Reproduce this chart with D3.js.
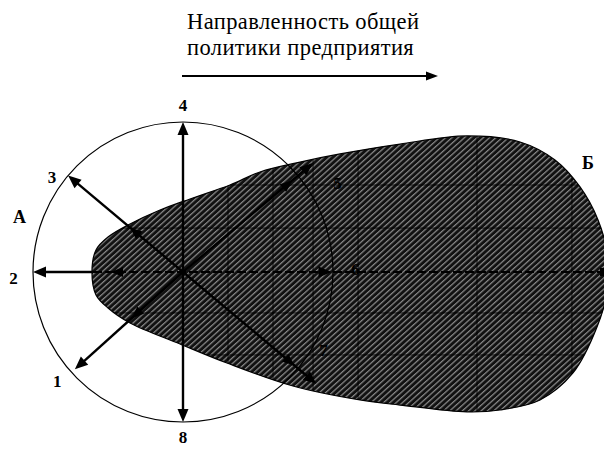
<!DOCTYPE html>
<html>
<head>
<meta charset="utf-8">
<script src="https://cdn.jsdelivr.net/npm/d3@7"></script>
<style>
  body { margin: 0; background: #fff; }
  svg { display: block; }
</style>
</head>
<body>
<div class="playground"></div>
<script>

// title text
var titleLines = ["Направленность общей", "политики предприятия"];

// directions from the centre of the circle: angle in degrees, arrow length in radii,
// extra arrowhead positions, label distance
var dirLabels = ["1", "2", "3", "4", "5", "6", "7", "8"];
var dirAngles = [222, 180, 140, 90, 40, 0, -40, -90];
var dirLengths = [0.97, 1.0, 1.0, 1.0, 1.13, 0.99, 1.16, 1.0];
var dirInner = [0.46, 0.48, 0.46, null, 0.95, null, 0.97, null];
var dirLabelDist = [1.11, 1.13, 1.08, 1.11, 1.19, 1.15, 1.07, 1.1];
var dirLabelAngle = [221, 182, 144, 90, 30, 1, -29, -90];

// zone labels [label, u, v]
var zoneLabels = [["А", -1.09, 0.37], ["Б", 2.7, 0.73]];

// outline of the shaded zone (units of circle radius)
var blobU = [-0.607, -0.58, -0.5, -0.353, -0.153, 0.047, 0.313, 0.513, 0.78, 1.047, 1.447, 1.893,
  2.247, 2.48, 2.647, 2.767, 2.83, 2.83, 2.76, 2.6, 2.38, 2.113, 1.893, 1.447, 1.18, 0.733, 0.293,
  -0.02, -0.353, -0.5, -0.58];
var blobV = [0, 0.147, 0.233, 0.32, 0.413, 0.487, 0.58, 0.667, 0.733, 0.787, 0.853, 0.907,
  0.867, 0.747, 0.567, 0.347, 0.113, -0.12, -0.367, -0.673, -0.853, -0.92, -0.933, -0.887, -0.853,
  -0.76, -0.607, -0.48, -0.34, -0.24, -0.153];

// faint grid inside the zone
var gridU = [0.3, 0.6, 0.867, 1.167, 1.96, 2.593];
var gridV = [0.58, 0.293, -0.273, -0.553];

var W = 604, H = 449;
var FONT = '"Liberation Serif", "DejaVu Serif", "Times New Roman", serif';

var svg = d3.select('body')
.select('.playground')
.append('svg')
.attr('width', W)
.attr('height', H);

// circle radius = 1 unit
var x = d3.scaleLinear().domain([-1, 1]).range([33, 333]);
var y = d3.scaleLinear().domain([-1, 1]).range([422, 122]);

var rad = function(a){ return a * Math.PI / 180; };
var px = function(a, r){ return x(r * Math.cos(rad(a))); };
var py = function(a, r){ return y(r * Math.sin(rad(a))); };

// filled arrowhead with tip at (tx,ty) pointing along angle a
function arrowHead(g, tx, ty, a, len, half){
  var c = Math.cos(rad(a)), s = -Math.sin(rad(a));
  var bx = tx - c * len, by = ty - s * len;
  var pts = [[tx, ty], [bx - s * half, by + c * half], [bx + s * half, by - c * half]];
  g.append('path')
  .attr('d', 'M' + pts.join('L') + 'Z')
  .style('fill', '#000');
}

var defs = svg.append('defs');
var pat = defs.append('pattern')
.attr('id', 'hatch')
.attr('patternUnits', 'userSpaceOnUse')
.attr('width', 4.2)
.attr('height', 4.2)
.attr('patternTransform', 'rotate(48)');
pat.append('rect').attr('width', 4.2).attr('height', 4.2).style('fill', '#111');
pat.append('line')
.attr('x1', 1.5).attr('x2', 1.5).attr('y1', 0).attr('y2', 4.2)
.style('stroke', '#9a9a9a')
.style('stroke-width', 1.1);

var blobPts = blobU.map(function(u, i){ return [x(u), y(blobV[i])]; });
var blobLine = d3.line().curve(d3.curveCatmullRomClosed.alpha(0.5));

defs.append('clipPath').attr('id', 'blobclip')
.append('path').attr('d', blobLine(blobPts));

//title, one text block with two lines
svg.append('text')
.attr('font-family', FONT)
.attr('font-size', 22.5)
.attr('letter-spacing', 0.4)
.selectAll('tspan')
.data(titleLines)
.enter()
.append('tspan')
.attr('x', 187)
.attr('y', function(d, i){ return 29 + i * 26; })
.text(function(d){ return d; });

svg.append('line')
.attr('x1', 182).attr('x2', 428).attr('y1', 76).attr('y2', 76)
.style('stroke', '#000').style('stroke-width', 2);
arrowHead(svg, 438, 76, 0, 12, 4.5);

// circle
svg.append('circle')
.attr('cx', x(0)).attr('cy', y(0))
.attr('r', x(1) - x(0))
.style('fill', 'none')
.style('stroke', '#000')
.style('stroke-width', 1.2);

// shaded zone
svg.append('path')
.attr('d', blobLine(blobPts))
.style('fill', 'url(#hatch)')
.style('stroke', '#000')
.style('stroke-width', 1.2);

var grid = svg.append('g').attr('clip-path', 'url(#blobclip)');
grid.selectAll('.gv')
.data(gridU)
.enter()
.append('line')
.attr('x1', function(d){ return x(d); })
.attr('x2', function(d){ return x(d); })
.attr('y1', 0).attr('y2', H)
.style('stroke', '#000').style('stroke-width', 1).style('opacity', 0.8);
grid.selectAll('.gh')
.data(gridV)
.enter()
.append('line')
.attr('x1', 0).attr('x2', W)
.attr('y1', function(d){ return y(d); })
.attr('y2', function(d){ return y(d); })
.style('stroke', '#000').style('stroke-width', 1).style('opacity', 0.8);

// circle arc again on top of the zone
svg.append('circle')
.attr('cx', x(0)).attr('cy', y(0))
.attr('r', x(1) - x(0))
.attr('clip-path', 'url(#blobclip)')
.style('fill', 'none')
.style('stroke', '#000')
.style('stroke-width', 1.3);

// horizontal axis through the zone
svg.append('line')
.attr('x1', x(-0.6)).attr('x2', W + 5)
.attr('y1', y(0)).attr('y2', y(0))
.style('stroke', '#000')
.style('stroke-width', 2)
.style('stroke-dasharray', '9,3');
svg.append('rect')
.attr('x', W - 4).attr('y', y(0) - 4)
.attr('width', 6).attr('height', 8)
.style('fill', '#000');

// direction arrows
var arrows = svg.append('g');
dirAngles.forEach(function(a, i){
  var L = dirLengths[i];
  if (a !== 0) {
    // the left ray is solid only outside the zone
    var r0 = (a === 180) ? 0.6 : 0;
    arrows.append('line')
    .attr('x1', px(a, r0)).attr('y1', py(a, r0))
    .attr('x2', px(a, L - 0.05)).attr('y2', py(a, L - 0.05))
    .style('stroke', '#000')
    .style('stroke-width', 2.4);
  }
  arrowHead(arrows, px(a, L), py(a, L), a, 13, 5.5);
  if (dirInner[i] !== null) {
    arrowHead(arrows, px(a, dirInner[i]), py(a, dirInner[i]), a, 12, 5);
  }
});

// direction labels
svg.selectAll('.dl')
.data(dirLabels)
.enter()
.append('text')
.attr('class', 'dl')
.attr('x', function(d, i){ return px(dirLabelAngle[i], dirLabelDist[i]); })
.attr('y', function(d, i){ return py(dirLabelAngle[i], dirLabelDist[i]); })
.attr('text-anchor', 'middle')
.attr('dy', '0.35em')
.attr('font-family', FONT)
.attr('font-size', 17)
.attr('font-weight', 'bold')
.text(function(d){ return d; });

svg.selectAll('.zl')
.data(zoneLabels)
.enter()
.append('text')
.attr('class', 'zl')
.attr('x', function(d){ return x(d[1]); })
.attr('y', function(d){ return y(d[2]); })
.attr('text-anchor', 'middle')
.attr('dy', '0.35em')
.attr('font-family', FONT)
.attr('font-size', 18)
.attr('font-weight', 'bold')
.text(function(d){ return d[0]; });

</script>
</body>
</html>
